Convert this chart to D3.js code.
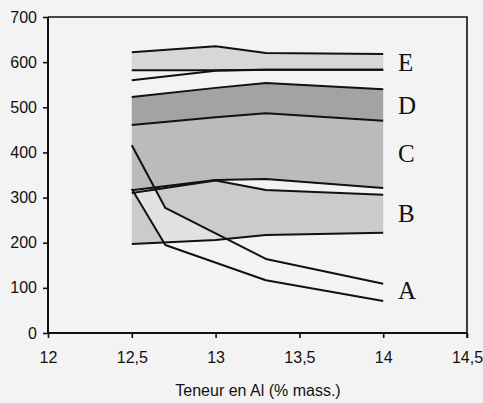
<!DOCTYPE html>
<html>
<head>
<meta charset="utf-8">
<script src="https://cdn.jsdelivr.net/npm/d3@7"></script>
<style>
  html, body { margin: 0; padding: 0; background: #f3f3f3; }
  svg { display: block; }
  .tick-label { font-family: "Liberation Sans", Arial, sans-serif; font-size: 16px; fill: #111; }
  .zone-label { font-family: "Liberation Serif", "Times New Roman", serif; font-size: 25px; fill: #111; }
</style>
</head>
<body>
<svg id="chart" width="483" height="403"></svg>
<script>
// Aluminium content (% mass.) at which the boundaries were measured
const xBands = [12.5, 13, 13.3, 14];
const xA = [12.5, 12.7, 13.3, 14];

// Zone boundaries (upper / lower curves)
const eTop = [622, 635, 620, 618];
const eBottom = [582, 582, 583, 583];
const eLower = [560, 581, 583, 583];
const dTop = [523, 543, 554, 540];
const dBottom = [461, 478, 487, 470];
const cBottom = [316, 339, 341, 321];
const bTop = [310, 338, 317, 306];
const bBottom = [197, 206, 217, 222];
const aUpper = [416, 277, 164, 109];
const aLower = [319, 195, 117, 71];

// Axis ticks
const xTicks = [12, 12.5, 13, 13.5, 14, 14.5];
const xTickLabels = ["12", "12,5", "13", "13,5", "14", "14,5"];
const yTicks = [0, 100, 200, 300, 400, 500, 600, 700];

// Zone letters and the value they sit beside
const zoneNames = ["E", "D", "C", "B", "A"];
const zoneLabelY = [600, 505, 398, 265, 95];

const svg = d3.select("#chart");
const plotLeft = 48, plotRight = 467, plotTop = 17, plotBottom = 333;

const x = d3.scaleLinear().domain([12, 14.5]).range([plotLeft, plotRight]);
const y = d3.scaleLinear().domain([0, 700]).range([plotBottom, plotTop]);

const band = (xs, hi, lo) => d3.area()
  .x((d, i) => x(xs[i]))
  .y0((d, i) => y(lo[i]))
  .y1((d, i) => y(hi[i]))(hi);

const line = (xs, vals) => d3.line()
  .x((d, i) => x(xs[i]))
  .y(d => y(d))(vals);

// Filled zones
svg.append("path").attr("d", band(xBands, eTop, eBottom)).attr("fill", "#d7d7d7");
svg.append("path").attr("d", band(xBands, dTop, dBottom)).attr("fill", "#a3a3a3");
svg.append("path").attr("d", band(xBands, dBottom, cBottom)).attr("fill", "#bbbbbb");
svg.append("path").attr("d", band(xBands, bTop, bBottom)).attr("fill", "#cbcbcb");

// Zone A lightens the part of zone B it crosses
svg.append("clipPath").attr("id", "clipB")
  .append("path").attr("d", band(xBands, bTop, bBottom));
svg.append("path")
  .attr("d", band(xA, aUpper, aLower))
  .attr("fill", "#e2e2e2")
  .attr("clip-path", "url(#clipB)");

// Boundary curves
const curves = [
  [xBands, eTop], [xBands, eBottom], [xBands, eLower],
  [xBands, dTop], [xBands, dBottom],
  [xBands, cBottom], [xBands, bTop], [xBands, bBottom],
  [xA, aUpper], [xA, aLower]
];
curves.forEach(([xs, vals]) => {
  svg.append("path")
    .attr("d", line(xs, vals))
    .attr("fill", "none")
    .attr("stroke", "#111")
    .attr("stroke-width", 2)
    .attr("stroke-linejoin", "round");
});

// Frame (top and right edges)
svg.append("path")
  .attr("d", `M${plotLeft},${plotTop}H${plotRight}V${plotBottom + 5}`)
  .attr("fill", "none").attr("stroke", "#111").attr("stroke-width", 1.6);

// Axes
const xAxis = d3.axisBottom(x).tickValues(xTicks)
  .tickFormat((d, i) => xTickLabels[i]).tickSize(5).tickPadding(14);
const gx = svg.append("g").attr("transform", `translate(0,${plotBottom})`).call(xAxis);

const yAxis = d3.axisLeft(y).tickValues(yTicks).tickSize(5).tickPadding(6);
const gy = svg.append("g").attr("transform", `translate(${plotLeft},0)`).call(yAxis);

[gx, gy].forEach(g => {
  g.attr("font-family", null).attr("font-size", null);
  g.select(".domain").attr("stroke", "#111").attr("stroke-width", 2);
  g.selectAll(".tick line").attr("stroke", "#111").attr("stroke-width", 1.6);
  g.selectAll(".tick text").attr("class", "tick-label");
});
gx.select(".domain").attr("d", `M${plotLeft},0H${plotRight}`);
gy.select(".domain").attr("d", `M0,${plotTop}V${plotBottom}`);

// Axis title
svg.append("text")
  .attr("class", "tick-label")
  .attr("x", 258).attr("y", 396)
  .attr("text-anchor", "middle")
  .text("Teneur en Al (% mass.)");

// Zone letters
svg.selectAll(".zone-label")
  .data(zoneNames)
  .enter().append("text")
  .attr("class", "zone-label")
  .attr("x", 398)
  .attr("y", (d, i) => y(zoneLabelY[i]))
  .attr("dy", "0.35em")
  .text(d => d);
</script>
</body>
</html>
